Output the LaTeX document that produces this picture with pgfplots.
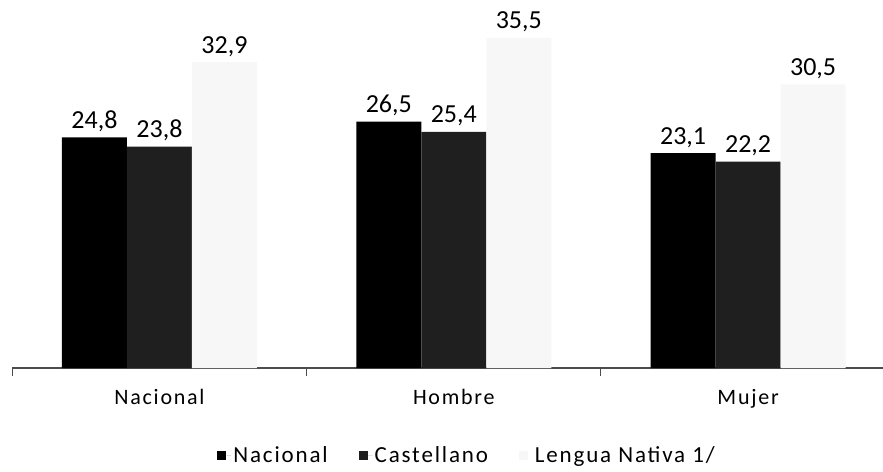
\documentclass[border=0pt]{standalone}
\usepackage{fontspec}
\setmainfont{Carlito}
\newfontfamily\lsfont[LetterSpace=8]{Carlito}
\usepackage{pgfplots}
\pgfplotsset{compat=1.18}
\begin{document}
\begin{tikzpicture}
\begin{axis}[
  at={(12.3pt,103pt)}, anchor=south west,
  scale only axis, width=883pt, height=372pt,
  xmin=-0.5, xmax=2.5, ymin=0, ymax=40,
  ybar=0pt, bar width=65pt,
  axis x line=bottom, axis y line=none,
  x axis line style={-, draw=black!70, line width=1.2pt},
  xtick={0,1,2}, xticklabels={Nacional,Hombre,Mujer},
  major tick length=0pt,
  xticklabel style={font=\lsfont\fontsize{22}{26}\selectfont, yshift=-18pt},
  extra x ticks={-0.5,0.5,1.5,2.5}, extra x tick labels={},
  extra x tick style={major tick length=8pt, tick align=outside, tick style={draw=black!70, line width=1pt}},
  ytick=\empty,
  nodes near coords,
  nodes near coords style={font=\fontsize{26}{30}\selectfont, text=black, yshift=2pt},
  /pgf/number format/use comma,
  /pgf/number format/fixed,
  /pgf/number format/fixed zerofill,
  /pgf/number format/precision=1,
  /pgf/number format/assume math mode=true,
  legend columns=3,
  legend style={at={(0.515,-0.235)}, anchor=center, draw=none, fill=none,
    font=\lsfont\fontsize{23}{27}\selectfont,
    /tikz/every even column/.append style={column sep=29pt},
    /tikz/column 4/.append style={column sep=42pt}},
  legend image code/.code={\fill[#1] (0pt,-4.5pt) rectangle (9pt,4.5pt); \path (9pt,0pt) -- (14pt,0pt);},
  clip=false,
]
\addplot[fill=black, draw=none] coordinates {(0,24.8) (1,26.5) (2,23.1)};
\addplot[fill=black!88, draw=none] coordinates {(0,23.8) (1,25.4) (2,22.2)};
\addplot[fill=black!3, draw=none] coordinates {(0,32.9) (1,35.5) (2,30.5)};
\legend{Nacional, Castellano, Lengua Nativa 1/}
\end{axis}
\pgfresetboundingbox
\path[use as bounding box] (0,0) rectangle (883pt,471pt);
\end{tikzpicture}
\end{document}
